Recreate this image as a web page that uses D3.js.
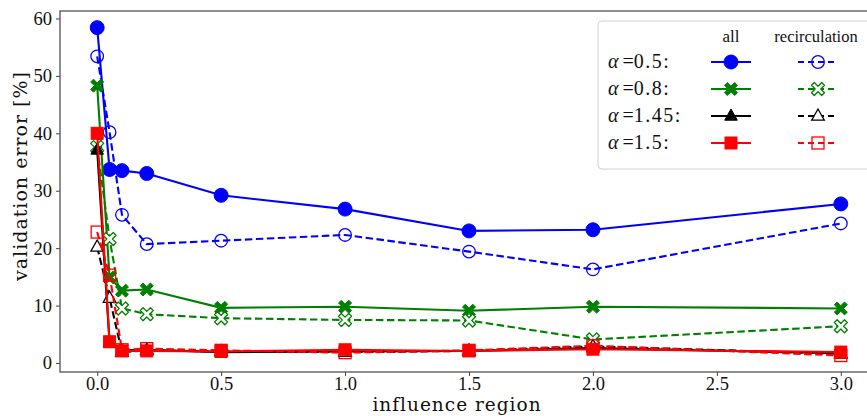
<!DOCTYPE html>
<html lang="en">
<head>
  <meta charset="UTF-8" />
  <title>Validation error vs influence region</title>
  <script src="https://d3js.org/d3.v7.min.js"></script>
  <style>
    body { margin: 0; background: #fff; }
    svg { display: block; font-family: "Liberation Serif", "DejaVu Serif", serif; }
  </style>
</head>
<body>
  <svg id="chart" width="867" height="416"></svg>
  <script>
    const regions = [0, 0.05, 0.1, 0.2, 0.5, 1.0, 1.5, 2.0, 3.0];
    const alphas = ["0.5", "0.8", "1.45", "1.5"];
    const colors = ["#0000ff", "#008000", "#000000", "#ff0000"];
    const shapes = ["circle", "x", "triangle", "square"];

    const allErr = [
      [58.4, 33.7, 33.5, 33.0, 29.2, 26.8, 23.0, 23.2, 27.7],
      [48.3, 14.9, 12.6, 12.8, 9.6, 9.8, 9.1, 9.8, 9.5],
      [37.1, 3.5, 2.2, 2.3, 1.9, 2.0, 2.1, 2.6, 1.7],
      [40.0, 3.7, 2.1, 2.1, 2.0, 2.3, 2.1, 2.4, 1.9]
    ];
    const recircErr = [
      [53.4, 40.2, 25.8, 20.7, 21.3, 22.3, 19.4, 16.3, 24.3],
      [37.6, 21.6, 9.5, 8.5, 7.8, 7.5, 7.4, 4.1, 6.4],
      [20.2, 11.3, 1.9, 2.2, 2.0, 1.9, 2.1, 2.9, 1.6],
      [22.8, 15.3, 2.3, 2.5, 2.2, 1.8, 2.2, 3.0, 1.3]
    ];

    const xTicks = [0, 0.5, 1.0, 1.5, 2.0, 2.5, 3.0];
    const yTicks = [0, 10, 20, 30, 40, 50, 60];

    const svg = d3.select("#chart");
    const pLeft = 60, pTop = 11, pBottom = 372, pRight = 878;

    const x = d3.scaleLinear().domain([-0.15, 3.15]).range([pLeft, pRight]);
    const y = d3.scaleLinear().domain([-1.57, 61.3]).range([pBottom, pTop]);

    // axes
    const xAxis = svg.append("g")
      .attr("transform", `translate(0,${pBottom})`)
      .call(d3.axisBottom(x).tickValues(xTicks).tickFormat(d3.format(".1f")).tickSize(4).tickPadding(1));
    const yAxis = svg.append("g")
      .attr("transform", `translate(${pLeft},0)`)
      .call(d3.axisLeft(y).tickValues(yTicks).tickFormat(d3.format("d")).tickSize(4).tickPadding(4));
    [xAxis, yAxis].forEach(a => {
      a.select(".domain").remove();
      a.selectAll("line").attr("stroke", "#444").attr("stroke-width", 1);
      a.selectAll("text").attr("font-family", "Liberation Serif, DejaVu Serif, serif")
        .attr("font-size", 18.5).attr("fill", "#111");
    });

    // frame
    svg.append("rect")
      .attr("x", pLeft).attr("y", pTop)
      .attr("width", pRight - pLeft).attr("height", pBottom - pTop)
      .attr("fill", "none").attr("stroke", "#444").attr("stroke-width", 1.2);

    svg.append("text")
      .attr("x", 457).attr("y", 411)
      .attr("text-anchor", "middle")
      .attr("font-family", "DejaVu Serif, serif")
      .attr("font-size", 18.5).attr("letter-spacing", 1).attr("fill", "#111")
      .text("influence region");
    svg.append("text")
      .attr("transform", "translate(27,176) rotate(-90)")
      .attr("text-anchor", "middle")
      .attr("font-family", "DejaVu Serif, serif")
      .attr("font-size", 19).attr("letter-spacing", 1).attr("fill", "#111")
      .text("validation error [%]");

    function marker(g, shape, cx, cy, color, filled) {
      const fill = filled ? color : "none";
      const sw = filled ? 1 : 1.3;
      if (shape === "circle") {
        g.append("circle").attr("cx", cx).attr("cy", cy).attr("r", filled ? 7 : 6.3)
          .attr("fill", fill).attr("stroke", color).attr("stroke-width", sw);
      } else if (shape === "square") {
        g.append("rect").attr("x", cx - 6).attr("y", cy - 6).attr("width", 12).attr("height", 12)
          .attr("fill", fill).attr("stroke", color).attr("stroke-width", sw);
      } else if (shape === "triangle") {
        const r = 7;
        g.append("path")
          .attr("d", `M${cx},${cy - r}L${cx + r * 0.9},${cy + r * 0.6}L${cx - r * 0.9},${cy + r * 0.6}Z`)
          .attr("fill", filled ? color : "#fff").attr("stroke", color).attr("stroke-width", sw);
      } else {
        // filled "X" marker
        const a = 6.5, w = 2.8;
        const p = [[-a + w, -a], [0, -w], [a - w, -a], [a, -a + w], [w, 0], [a, a - w],
          [a - w, a], [0, w], [-a + w, a], [-a, a - w], [-w, 0], [-a, -a + w]];
        g.append("path")
          .attr("d", "M" + p.map(q => `${cx + q[0]},${cy + q[1]}`).join("L") + "Z")
          .attr("fill", filled ? color : "#fff").attr("stroke", color).attr("stroke-width", sw)
          .attr("stroke-linejoin", "round");
      }
    }

    const line = d3.line().x(d => x(d[0])).y(d => y(d[1]));
    const plot = svg.append("g");

    alphas.forEach((a, i) => {
      [[allErr[i], true], [recircErr[i], false]].forEach(([vals, solid]) => {
        const pts = regions.map((r, j) => [r, vals[j]]);
        const g = plot.append("g");
        g.append("path")
          .attr("d", line(pts))
          .attr("fill", "none")
          .attr("stroke", colors[i])
          .attr("stroke-width", 2.1)
          .attr("stroke-dasharray", solid ? null : "7.5,3.5");
        pts.forEach(p => marker(g, shapes[i], x(p[0]), y(p[1]), colors[i], solid));
      });
    });

    // legend
    const leg = svg.append("g");
    leg.append("rect")
      .attr("x", 598).attr("y", 21).attr("width", 290).attr("height", 148)
      .attr("rx", 4).attr("fill", "#fff").attr("fill-opacity", 0.85)
      .attr("stroke", "#d0d0d0").attr("stroke-width", 1);
    leg.append("text").attr("x", 731).attr("y", 42).attr("text-anchor", "middle")
      .attr("font-size", 17).attr("fill", "#111").text("all");
    leg.append("text").attr("x", 816).attr("y", 42).attr("text-anchor", "middle")
      .attr("font-size", 16.5).attr("fill", "#111").text("recirculation");

    alphas.forEach((a, i) => {
      const ry = 62 + i * 27;
      const t = leg.append("text").attr("x", 608).attr("y", ry + 6)
        .attr("font-size", 20).attr("fill", "#111");
      t.append("tspan").attr("font-style", "italic").text("α");
      t.append("tspan").attr("dx", 4).text("=");
      t.append("tspan").attr("letter-spacing", 1.5).text(a + ":");

      const g1 = leg.append("g");
      g1.append("line").attr("x1", 711).attr("x2", 751).attr("y1", ry).attr("y2", ry)
        .attr("stroke", colors[i]).attr("stroke-width", 2.1);
      marker(g1, shapes[i], 731, ry, colors[i], true);

      const g2 = leg.append("g");
      g2.append("line").attr("x1", 798).attr("x2", 838).attr("y1", ry).attr("y2", ry)
        .attr("stroke", colors[i]).attr("stroke-width", 2.1).attr("stroke-dasharray", "6,4");
      marker(g2, shapes[i], 818, ry, colors[i], false);
    });
  </script>
</body>
</html>
